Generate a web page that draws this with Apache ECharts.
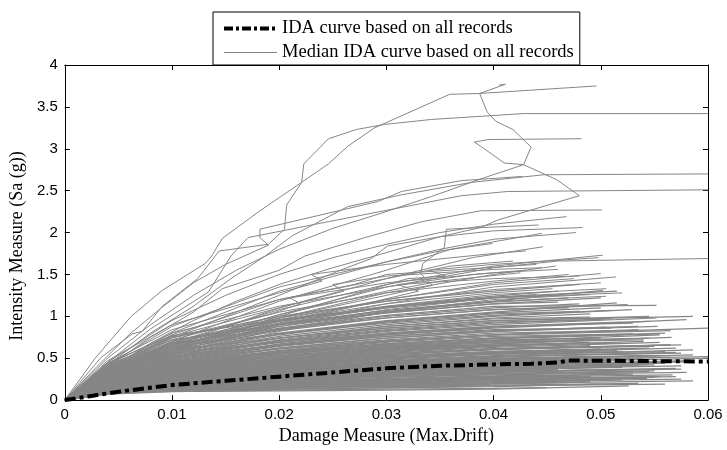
<!DOCTYPE html>
<html><head><meta charset="utf-8">
<script src="https://cdn.jsdelivr.net/npm/echarts@6/dist/echarts.min.js"></script>
<style>html,body{margin:0;padding:0;background:#fff}#c{width:727px;height:450px}</style>
</head><body><div id="c"></div>
<script>
const legendNames = ['IDA curve based on all records', 'Median IDA curve based on all records'];
const xTickLabels = ['0', '0.01', '0.02', '0.03', '0.04', '0.05', '0.06'];
const xTitle = 'Damage Measure (Max.Drift)';
const yTitle = 'Intensity Measure (Sa (g))';

// black dash-dot curve [drift, Sa]
const medianCurve = [[0,0],[.0025,.05],[.005,.1],[.01,.18],[.015,.23],[.02,.28],[.025,.33],[.03,.38],[.035,.41],[.04,.426],[.0435,.434],[.046,.45],[.047,.472],[.05,.47],[.06,.46]];

// distinct high records [drift, Sa]
const upperRecords = [
 [[0,0],[.0029,.51],[.0062,1.0],[.0091,1.31],[.0131,1.63],[.0137,1.72],[.0147,1.93],[.0181,2.25],[.0221,2.6],[.0246,2.82],[.0264,3.03],[.0289,3.25],[.0359,3.65],[.0387,3.66],[.0496,3.75]],
 [[0,0],[.0034,.51],[.0063,.79],[.0072,.82],[.0091,1.12],[.0124,1.45],[.0144,1.78],[.0167,1.82],[.019,1.86],[.0205,2.04],[.0207,2.33],[.0221,2.6],[.0223,2.82],[.0246,3.12],[.0272,3.23],[.0298,3.29],[.0342,3.35],[.0428,3.42],[.06,3.42]],
 [[0,0],[.004,.35],[.008,.68],[.012,.95],[.016,1.18],[.02,1.38],[.025,1.58],[.03,1.76],[.035,1.95],[.0388,2.06],[.0404,2.15],[.048,2.44],[.0459,2.63],[.0428,2.81],[.0435,3.02],[.0418,3.23],[.0402,3.33],[.0394,3.44],[.0387,3.66],[.0411,3.77],[.0405,3.76]],
 [[0,0],[.004,.5],[.008,.9],[.012,1.25],[.016,1.55],[.02,1.8],[.025,2.05],[.0295,2.23],[.0342,2.43],[.0388,2.64],[.0428,2.81],[.041,2.83],[.0388,3.03],[.0382,3.08],[.0395,3.11],[.0482,3.12]],
 [[0,0],[.003,.4],[.006,.78],[.009,1.1],[.012,1.4],[.015,1.62],[.019,1.85],[.0182,1.94],[.0182,2.04],[.0292,2.37],[.0314,2.49],[.037,2.62],[.0427,2.67]],
 [[0,0],[.004,.42],[.008,.8],[.012,1.12],[.0155,1.45],[.0187,1.72],[.0212,1.96],[.0264,2.31],[.0314,2.45],[.038,2.6],[.0447,2.69],[.06,2.7]],
 [[0,0],[.004,.45],[.008,.85],[.0134,1.29],[.0155,1.72],[.0171,1.94],[.0246,2.13],[.0314,2.3],[.037,2.44],[.0413,2.49],[.06,2.51]],
 [[0,0],[.004,.4],[.008,.75],[.012,1.05],[.0147,1.33],[.02,1.55],[.0224,1.72],[.028,1.94],[.0333,2.13],[.0388,2.26],[.0501,2.27]]
];

// sparse middle records [drift, Sa]
const midRecords = [
 [[0,0],[.004,.45],[.01,.95],[.015,1.25],[.02,1.5],[.025,1.7],[.03,1.86],[.035,2.0],[.04,2.1],[.0468,2.19]],
 [[0,0],[.004,.3],[.01,.62],[.02,.98],[.03,1.25],[.0343,1.37],[.0332,1.51],[.0334,1.63],[.0354,1.82],[.0356,2.04],[.0442,2.09]],
 [[0,0],[.004,.35],[.01,.75],[.02,1.25],[.0257,1.55],[.0286,1.69],[.0301,1.84],[.035,1.95],[.04,2.02],[.0483,2.06]],
 [[0,0],[.004,.38],[.01,.8],[.02,1.3],[.03,1.65],[.035,1.8],[.04,1.92],[.0477,2.0]],
 [[0,0],[.004,.33],[.01,.7],[.02,1.18],[.03,1.55],[.036,1.8],[.0445,1.99]],
 [[0,0],[.004,.42],[.01,.88],[.02,1.35],[.03,1.65],[.035,1.78],[.0399,1.87]],
 [[0,0],[.004,.3],[.01,.65],[.02,1.1],[.03,1.45],[.038,1.7],[.0446,1.83]],
 [[0,0],[.004,.31],[.01,.68],[.02,1.08],[.03,1.38],[.04,1.6],[.0502,1.73]],
 [[0,0],[.004,.28],[.01,.6],[.02,1.0],[.028,1.3],[.032,1.45],[.0355,1.48],[.034,1.55],[.04,1.62],[.0498,1.7]],
 [[0,0],[.004,.3],[.01,.62],[.02,1.02],[.03,1.35],[.04,1.58],[.046,1.66],[.06,1.69]],
 [[0,0],[.004,.27],[.01,.58],[.02,.98],[.03,1.28],[.04,1.5],[.0458,1.6]],
 [[0,0],[.004,.26],[.01,.56],[.02,.92],[.03,1.2],[.04,1.4],[.05,1.51]],
 [[0,0],[.004,.25],[.01,.54],[.02,.9],[.03,1.15],[.04,1.35],[.0514,1.47]],
 [[0,0],[.004,.36],[.01,.78],[.02,1.2],[.027,1.38],[.03,1.5],[.037,1.56],[.044,1.62]],
 [[0,0],[.004,.24],[.01,.5],[.02,.82],[.03,1.05],[.04,1.2],[.049,1.26]],
 [[0,0],[.004,.38],[.01,.72],[.02,1.05],[.03,1.28],[.04,1.42],[.047,1.5]],
 [[0,0],[.004,.4],[.01,.76],[.02,1.1],[.026,1.3],[.025,1.38],[.03,1.48],[.04,1.56],[.0445,1.58]],
 [[0,0],[.004,.33],[.01,.66],[.02,1.02],[.03,1.3],[.035,1.42],[.0425,1.52]],
 [[0,0],[.004,.35],[.01,.7],[.02,.98],[.03,1.18],[.04,1.32],[.05,1.4]],
 [[0,0],[.004,.37],[.01,.74],[.019,1.02],[.022,1.15],[.021,1.22],[.03,1.4],[.04,1.52],[.046,1.56]],
 [[0,0],[.004,.3],[.01,.6],[.02,.9],[.03,1.12],[.04,1.26],[.0505,1.33]],
 [[0,0],[.004,.42],[.01,.8],[.02,1.12],[.03,1.35],[.038,1.5],[.043,1.55]],
 [[0,0],[.004,.28],[.01,.58],[.02,.88],[.03,1.08],[.04,1.22],[.052,1.28]],
 [[0,0],[.004,.32],[.01,.64],[.02,.96],[.029,1.18],[.033,1.3],[.031,1.38],[.04,1.45],[.048,1.48]],
 [[0,0],[.004,.36],[.01,.68],[.02,.95],[.03,1.15],[.04,1.28],[.0455,1.33]],
 [[0,0],[.004,.26],[.01,.55],[.02,.85],[.03,1.05],[.04,1.18],[.0505,1.24]],
 [[0,0],[.004,.44],[.01,.84],[.02,1.2],[.03,1.45],[.036,1.6],[.0418,1.66]],
 [[0,0],[.004,.34],[.01,.66],[.02,.92],[.03,1.1],[.04,1.22],[.044,1.26]],
 [[0,0],[.004,.29],[.01,.6],[.02,.94],[.03,1.2],[.04,1.38],[.0475,1.45]],
 [[0,0],[.004,.47],[.01,.9],[.02,1.28],[.024,1.42],[.023,1.5],[.03,1.62],[.04,1.75],[.043,1.78]]
];

// dense records: Sa at the drifts below, then end drift and end Sa
const massDrift = [.004, .01, .02, .03, .04];
const massRecords = [
 [.08,.105,.11,.12,.13,.0526,.17],[.09,.12,.13,.145,.16,.050,.19],[.10,.13,.15,.17,.20,.0586,.23],
 [.09,.14,.17,.19,.21,.052,.24],[.11,.15,.19,.22,.24,.0543,.26],[.10,.155,.20,.24,.27,.0567,.30],
 [.12,.165,.21,.25,.28,.048,.29],[.11,.17,.23,.27,.30,.058,.33],[.13,.18,.24,.29,.32,.055,.35],
 [.12,.19,.25,.30,.34,.057,.38],[.14,.195,.27,.32,.36,.052,.39],[.13,.20,.28,.34,.37,.0575,.41],
 [.15,.21,.29,.35,.39,.0545,.43],[.14,.22,.30,.36,.40,.056,.44],[.16,.225,.31,.37,.42,.0585,.47],
 [.15,.23,.32,.38,.43,.051,.46],[.17,.24,.33,.40,.44,.06,.50],[.16,.25,.34,.41,.46,.055,.49],
 [.18,.255,.35,.42,.47,.06,.52],[.17,.26,.36,.43,.48,.0586,.54],[.19,.27,.37,.45,.50,.054,.53],
 [.18,.28,.38,.46,.52,.0575,.56],[.20,.29,.40,.48,.53,.0586,.60],[.19,.30,.41,.49,.55,.056,.58],
 [.21,.31,.42,.50,.56,.057,.62],[.20,.32,.44,.52,.58,.053,.61],[.22,.33,.45,.54,.60,.0565,.66],
 [.21,.34,.46,.55,.61,.055,.64],[.23,.35,.48,.57,.63,.0555,.69],[.22,.36,.49,.58,.65,.052,.68],
 [.24,.37,.50,.60,.67,.0566,.75],[.23,.38,.52,.62,.69,.054,.72],[.25,.39,.53,.63,.70,.0555,.78],
 [.24,.40,.55,.65,.72,.05,.74],[.26,.41,.56,.67,.74,.056,.80],[.25,.42,.58,.69,.76,.053,.79],
 [.27,.43,.59,.70,.78,.06,.86],[.26,.44,.61,.72,.80,.052,.83],[.28,.45,.62,.74,.82,.0553,.88],
 [.27,.46,.64,.76,.84,.051,.86],[.29,.47,.65,.78,.86,.058,.96],[.28,.48,.67,.80,.88,.053,.92],
 [.30,.50,.69,.82,.90,.0552,.98],[.29,.51,.71,.84,.93,.05,.96],[.31,.52,.72,.86,.95,.0586,1.0],
 [.30,.53,.74,.88,.97,.049,.99],[.33,.55,.76,.90,1.0,.0529,1.08],[.32,.56,.78,.93,1.03,.048,1.06],
 [.34,.58,.80,.95,1.05,.0515,1.16],[.33,.60,.83,.98,1.08,.047,1.1],[.35,.62,.86,1.01,1.12,.0552,1.13],
 [.36,.64,.88,1.04,1.15,.046,1.17],[.38,.66,.91,1.07,1.18,.0502,1.31],[.37,.68,.94,1.10,1.22,.045,1.25],
 [.10,.14,.18,.21,.23,.045,.25],[.12,.16,.21,.25,.27,.047,.29],[.13,.18,.22,.26,.29,.044,.30],
 [.14,.19,.26,.30,.33,.049,.36],[.15,.21,.27,.31,.35,.046,.37],[.16,.22,.29,.34,.38,.05,.42],
 [.17,.24,.31,.36,.40,.047,.43],[.18,.25,.33,.39,.43,.049,.46],[.19,.27,.35,.42,.46,.045,.48],
 [.20,.28,.37,.44,.49,.048,.52],[.21,.30,.39,.46,.51,.046,.54],[.22,.31,.42,.50,.55,.05,.59],
 [.23,.33,.44,.52,.57,.047,.60],[.24,.35,.47,.55,.61,.049,.65],[.25,.37,.49,.58,.64,.046,.67],
 [.26,.39,.52,.61,.67,.048,.71],[.27,.41,.55,.64,.71,.045,.73],[.28,.43,.57,.67,.74,.047,.77],
 [.11,.14,.16,.18,null,.0397,.19],[.13,.17,.20,.24,null,.038,.26],[.16,.21,.26,.31,null,.036,.33]
];
const massRecords2 = [
 [.09,.12,.15,.18,.20,.049,.22],[.07,.13,.18,.22,.25,.055,.27],[.11,.14,.17,.20,.22,.0505,.24],
 [.08,.15,.21,.25,.28,.053,.31],[.12,.16,.19,.22,.25,.057,.28],[.09,.17,.23,.28,.31,.0545,.34],
 [.13,.18,.22,.25,.28,.051,.31],[.10,.18,.25,.30,.34,.056,.37],[.14,.19,.24,.28,.31,.053,.34],
 [.11,.20,.27,.33,.37,.052,.40],[.15,.21,.26,.30,.33,.0575,.37],[.12,.21,.29,.35,.39,.055,.42],
 [.16,.22,.27,.32,.35,.046,.37],[.13,.23,.31,.37,.42,.058,.46],[.17,.24,.29,.34,.38,.0535,.41],
 [.14,.24,.33,.39,.44,.049,.46],[.18,.25,.31,.36,.40,.056,.44],[.15,.26,.35,.42,.47,.053,.50],
 [.19,.27,.33,.38,.42,.0585,.46],[.16,.27,.37,.44,.49,.0555,.53],[.20,.28,.34,.40,.44,.05,.47],
 [.17,.29,.39,.46,.52,.057,.57],[.21,.30,.36,.42,.46,.054,.50],[.18,.31,.42,.50,.56,.0515,.59],
 [.22,.32,.39,.45,.49,.0565,.53],[.19,.33,.44,.52,.58,.05,.61],[.23,.34,.41,.47,.52,.055,.56],
 [.20,.35,.47,.55,.61,.0575,.66],[.24,.36,.43,.50,.55,.052,.58],[.21,.37,.50,.59,.65,.054,.70],
 [.25,.38,.46,.53,.58,.0545,.62],[.22,.39,.53,.62,.69,.051,.72],[.26,.40,.49,.56,.61,.0565,.66],
 [.23,.41,.56,.66,.73,.0555,.79],[.27,.42,.52,.60,.66,.049,.69],[.24,.43,.59,.70,.78,.0535,.84],
 [.28,.44,.55,.64,.70,.0545,.74],[.25,.45,.62,.74,.82,.0505,.87],[.29,.46,.58,.67,.74,.052,.78],
 [.26,.48,.66,.78,.87,.0545,.94],[.30,.49,.61,.71,.78,.0565,.83],[.28,.51,.70,.83,.92,.051,.97],
 [.32,.52,.65,.76,.83,.0535,.88],[.30,.54,.74,.88,.98,.049,1.03],[.34,.56,.69,.80,.88,.052,.93],
 [.32,.58,.79,.94,1.04,.05,1.1],[.36,.60,.74,.86,.95,.0545,1.0],[.34,.62,.84,1.0,1.1,.048,1.15],
 [.38,.64,.79,.92,1.01,.051,1.07],[.36,.66,.90,1.06,1.17,.047,1.22],[.40,.68,.85,.98,1.08,.0525,1.14],
 [.38,.70,.95,1.12,1.24,.046,1.3],[.42,.72,.90,1.04,1.15,.05,1.22],[.40,.75,1.0,1.18,1.3,.048,1.38],
 [.44,.77,.96,1.11,1.23,.0515,1.3],[.09,.12,.14,.16,null,.038,.17],[.12,.17,.21,.25,null,.037,.27],
 [.15,.22,.28,.33,null,.039,.36],[.18,.28,.36,.43,null,.036,.46],[.21,.33,.43,.51,null,.038,.55],
 [.25,.40,.52,.62,null,.037,.66],[.30,.50,.66,.79,null,.039,.85],
 [.07,.10,.12,.13,.14,.045,.15],[.08,.11,.13,.15,.17,.056,.19],[.09,.125,.15,.165,.18,.0535,.20],
 [.10,.135,.16,.18,.19,.047,.21],[.08,.14,.18,.20,.22,.0575,.25],[.11,.15,.18,.21,.23,.0515,.25],
 [.10,.16,.20,.23,.26,.0555,.28],[.12,.17,.21,.24,.27,.049,.28]
];

const GREY = '#868686';
function greySeries(data, w) {
  return { name: legendNames[1], type: 'line', data: data, symbol: 'none', silent: true, z: 2,
           itemStyle: { color: GREY }, lineStyle: { color: GREY, width: w }, animation: false };
}
function massPoints(row) {
  const pts = [[0, 0]];
  const xe = row[5], ye = row[6];
  massDrift.forEach((d, i) => { if (row[i] != null && d < xe) pts.push([d, row[i]]); });
  pts.push([xe, ye]);
  return pts;
}
const series = [{ name: legendNames[0], type: 'line', data: medianCurve, symbol: 'none', silent: true, z: 10,
  itemStyle: { color: '#000' }, lineStyle: { color: '#000', width: 4, type: [11, 4, 4, 4] }, animation: false }];
upperRecords.forEach(r => series.push(greySeries(r, 1)));
midRecords.forEach(r => series.push(greySeries(r, 1)));
massRecords.forEach(r => series.push(greySeries(massPoints(r), 1.25)));
massRecords2.forEach(r => series.push(greySeries(massPoints(r), 1.25)));

const axisCommon = {
  axisLine: { show: true, onZero: false, lineStyle: { color: '#000', width: 1 } },
  axisTick: { show: true, inside: true, length: 5, lineStyle: { color: '#000', width: 1 } },
  splitLine: { show: false }
};
const chart = echarts.init(document.getElementById('c'), null, { renderer: 'canvas' });
chart.setOption({
  animation: false,
  backgroundColor: '#fff',
  grid: { left: 62, right: 19, top: 65, bottom: 43 },
  legend: {
    data: [
      { name: legendNames[0], lineStyle: { color: '#000', width: 4, type: [9, 3, 3, 3] } },
      { name: legendNames[1], lineStyle: { color: GREY, width: 1 } }
    ],
    orient: 'vertical', left: 213, top: 12,
    backgroundColor: '#fff', borderColor: '#000', borderWidth: 1, borderRadius: 0,
    padding: [7, 6, 3, 9], itemGap: 5, itemWidth: 53, itemHeight: 14,
    itemStyle: { opacity: 0 },
    textStyle: { fontFamily: 'Liberation Serif', fontSize: 18.5, color: '#000' }
  },
  xAxis: [
    Object.assign({ type: 'value', min: 0, max: 0.06, interval: 0.01, position: 'bottom',
      axisLabel: { formatter: v => xTickLabels[Math.round(v / 0.01)], color: '#000', fontFamily: 'Liberation Sans', fontSize: 15, margin: 7 },
      name: xTitle, nameLocation: 'middle', nameGap: 22,
      nameTextStyle: { fontFamily: 'Liberation Serif', fontSize: 18, color: '#000' } }, axisCommon),
    Object.assign({ type: 'value', min: 0, max: 0.06, interval: 0.01, position: 'top',
      axisLabel: { show: false } }, axisCommon)
  ],
  yAxis: [
    Object.assign({ type: 'value', min: 0, max: 4, interval: 0.5, position: 'left',
      axisLabel: { color: '#000', fontFamily: 'Liberation Sans', fontSize: 15, margin: 7 },
      name: yTitle, nameLocation: 'middle', nameGap: 36, nameRotate: 90,
      nameTextStyle: { fontFamily: 'Liberation Serif', fontSize: 18, color: '#000', padding: [0, 27, 0, 0] } }, axisCommon),
    Object.assign({ type: 'value', min: 0, max: 4, interval: 0.5, position: 'right',
      axisLabel: { show: false } }, axisCommon)
  ],
  series: series
});
</script></body></html>
